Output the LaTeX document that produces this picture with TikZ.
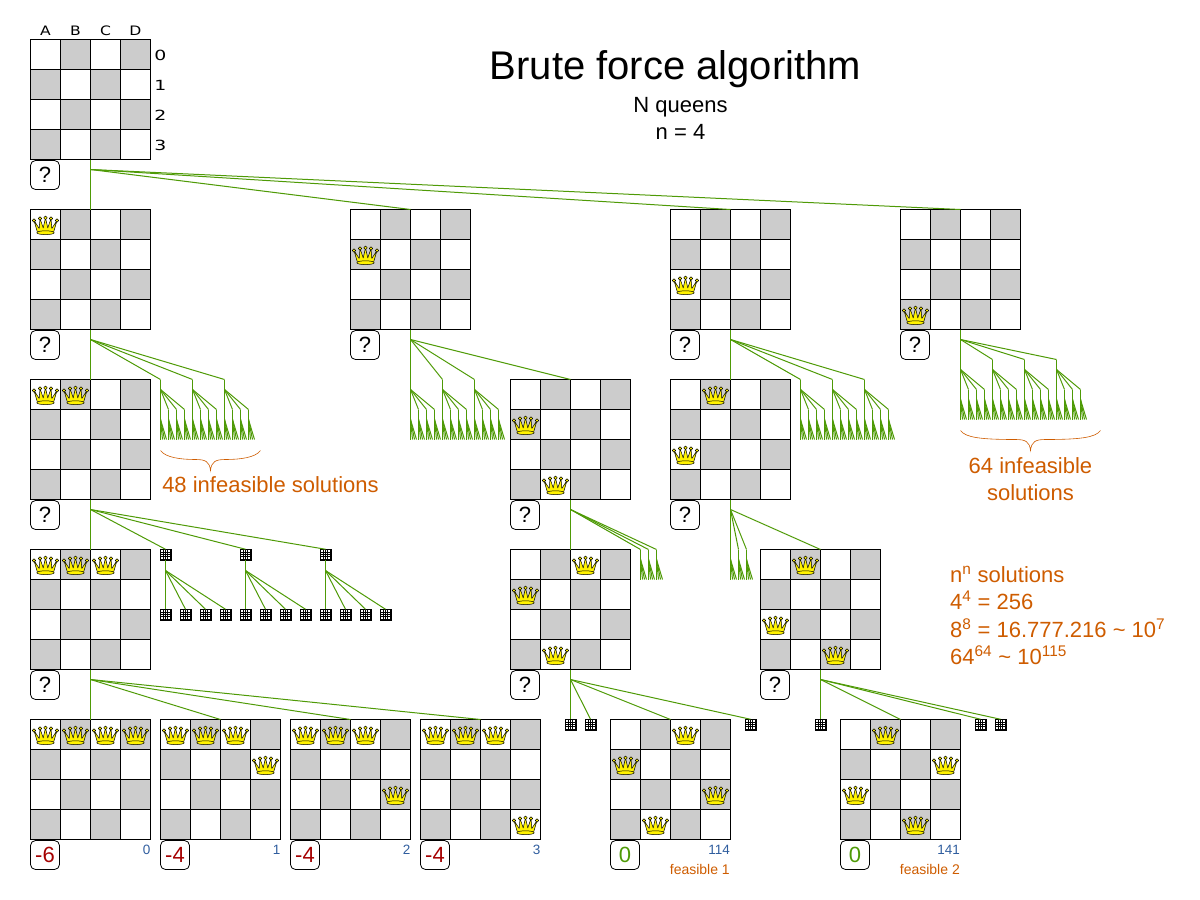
\documentclass[tikz,border=0pt]{standalone}
\usepackage{fontspec}
\setmainfont{Liberation Sans}
\newfontfamily\labelfont{DejaVu Sans}

\definecolor{cellgray}{HTML}{CCCCCC}
\definecolor{edgegreen}{HTML}{4E9A06}
\definecolor{notered}{HTML}{A40000}
\definecolor{noteorange}{HTML}{CE5C00}
\definecolor{noteblue}{HTML}{2F5D9E}
\definecolor{crownyellow}{HTML}{FFF200}

\tikzset{
  boardframe/.style={draw=black, line width=1.1pt, minimum size=120pt,
    inner sep=0pt, outer sep=0pt, anchor=north west},
  gridline/.style={draw=black, line width=1.1pt},
  branch/.style={draw=edgegreen, line width=1pt},
  crown/.style={draw=black, fill=crownyellow, line width=0.5pt, line join=round},
  miniboard/.style={draw=black, fill=black, line width=0.5pt, minimum size=10.5pt,
    inner sep=0pt, outer sep=0pt},
  scorebox/.style={draw=black, line width=0.8pt, rounded corners=5pt, minimum size=29pt,
    inner sep=0pt, outer sep=0pt, anchor=north west, font=\fontsize{22}{22}\selectfont},
  collabel/.style={font=\labelfont\fontsize{13}{13}\selectfont, xscale=1.2, transform shape, inner sep=0pt},
  rowlabel/.style={font=\labelfont\fontsize{14}{14}\selectfont, xscale=1.35, transform shape, inner sep=0pt},
  titletext/.style={anchor=base, inner sep=0pt, font=\fontsize{#1}{#1}\selectfont},
  note/.style={text=noteorange, inner sep=0pt, font=\fontsize{22}{22}\selectfont},
  indexnote/.style={text=noteblue, inner sep=0pt, anchor=east, font=\fontsize{13.5}{14}\selectfont},
  feasnote/.style={text=noteorange, inner sep=0pt, anchor=east, font=\fontsize{14}{14}\selectfont},
  bracecurve/.style={draw=noteorange, line width=0.6pt},
}

% checker board with its fork point below
\newcommand{\board}[3]{
  \begin{scope}[shift={(#2,#3)}]
    \foreach \cx/\cy in {30/0,90/0,0/30,60/30,30/60,90/60,0/90,60/90}
      \fill[cellgray] (\cx,\cy) rectangle ++(30,30);
    \foreach \k in {30,60,90} {
      \draw[gridline] (\k,0) -- (\k,120);
      \draw[gridline] (0,\k) -- (120,\k);
    }
  \end{scope}
  \node[boardframe] (#1) at (#2,#3) {};
  \coordinate (#1-f) at ([yshift=-10pt]#1.south);
}

% crowns, given as column/row
\newcommand{\queens}[2]{
  \foreach \qc/\qr in {#2} {
    \begin{scope}[shift={(#1.north west)}, shift={(\qc*30,\qr*30)}]
      \draw[crown] (7,23) -- (3.5,11) -- (8.7,19) -- (9.5,9) -- (12.7,18.5) -- (15,8.3)
        -- (17.3,18.5) -- (20.5,9) -- (21.3,19) -- (26.5,11) -- (23,23) -- cycle;
      \draw[crown] (15,23.2) ellipse (8.7 and 1.9);
      \foreach \bx/\by in {3.5/11,9.5/9,15/8.3,20.5/9,26.5/11}
        \draw[crown] (\bx,\by) circle (1.8);
    \end{scope}
  }
}

% rounded box under a board
\newcommand{\scorelabel}[3]{
  \node[scorebox, text=#2] (#1-s) at ([yshift=-1pt]#1.south west) {#3};
}

% tiny board
\newcommand{\tinyboard}[3]{
  \node[miniboard] (#1) at (#2,#3) {};
  \begin{scope}[shift={(#2,#3)}]
    \foreach \cx in {-4.1,-1.8,0.5,2.8}
      \foreach \cy in {-4.1,-1.8,0.5,2.8}
        \fill[white] (\cx,\cy) rectangle ++(1.25,1.25);
  \end{scope}
}

% tiny board with four tiny children
\newcommand{\tinytree}[2]{
  \tinyboard{#1}{#2}{554}
  \coordinate (#1-f) at (#2,570);
  \foreach \i in {0,...,3} {
    \tinyboard{#1-\i}{#2+20*\i}{614}
    \draw[branch] (#1-f) -- (#1-\i.north);
  }
  \draw[branch] (#1.south) -- (#1-f);
}

% four leaves under a point
\newcommand{\fanleaves}[1]{
  \coordinate (#1-f) at ([yshift=-10pt]#1);
  \draw[branch] (#1) -- (#1-f);
  \foreach \j in {0,...,3} {
    \coordinate (#1-\j) at ([xshift=2*\j pt, yshift=-30pt]#1);
    \draw[branch] (#1-f) -- (#1-\j);
  }
}

% four points under a point, each with four leaves
\newcommand{\fangroup}[3]{
  \coordinate (#1) at (#2,#3);
  \coordinate (#1-f) at (#2,#3+10);
  \draw[branch] (#1) -- (#1-f);
  \foreach \i in {0,...,3} {
    \coordinate (#1-\i) at ({#2+8*\i},#3+30);
    \draw[branch] (#1-f) -- (#1-\i);
    \fanleaves{#1-\i}
  }
}

% curly brace, 100pt or 140pt wide
\newcommand{\bracemark}[3]{
  \begin{scope}[shift={(#1,#2)}]
    \draw[bracecurve] (0,0) .. controls (5,7) and (20,9) .. (#3/2-15,9)
      .. controls (#3/2-5,9) and (#3/2-1,11) .. (#3/2,20)
      .. controls (#3/2+1,11) and (#3/2+5,9) .. (#3/2+15,9)
      .. controls (#3-20,9) and (#3-5,7) .. (#3,0);
  \end{scope}
}

\begin{document}
\begin{tikzpicture}[x=1pt, y=-1pt]
\useasboundingbox (-0.5,-0.5) rectangle (1199.5,899.5);

  % title
  \node[titletext=40] (title) at (675,79) {Brute force algorithm};
  \node[titletext=22] (subtitle) at (680,112) {N queens};
  \node[titletext=22] (size) at (680,139) {n = 4};

  % boards
  \board{bzero}{30}{39}
  \board{ba}{30}{209}
  \board{bb}{350}{209}
  \board{bc}{670}{209}
  \board{bd}{900}{209}
  \board{baa}{30}{379}
  \board{bbd}{510}{379}
  \board{bcb}{670}{379}
  \board{baaa}{30}{549}
  \board{bbdc}{510}{549}
  \board{bcbd}{760}{549}
  \board{rzero}{30}{719}
  \board{rone}{160}{719}
  \board{rtwo}{290}{719}
  \board{rthree}{420}{719}
  \board{rfeasa}{610}{719}
  \board{rfeasb}{840}{719}

  \queens{ba}{0/0}
  \queens{bb}{0/1}
  \queens{bc}{0/2}
  \queens{bd}{0/3}
  \queens{baa}{0/0,1/0}
  \queens{bbd}{0/1,1/3}
  \queens{bcb}{1/0,0/2}
  \queens{baaa}{0/0,1/0,2/0}
  \queens{bbdc}{0/1,2/0,1/3}
  \queens{bcbd}{1/0,0/2,2/3}
  \queens{rzero}{0/0,1/0,2/0,3/0}
  \queens{rone}{0/0,1/0,2/0,3/1}
  \queens{rtwo}{0/0,1/0,2/0,3/2}
  \queens{rthree}{0/0,1/0,2/0,3/3}
  \queens{rfeasa}{2/0,0/1,3/2,1/3}
  \queens{rfeasb}{1/0,3/1,0/2,2/3}

  % column and row names
  \foreach \c/\x in {A/45,B/75,C/105,D/135} {
    \node[collabel] (col\c) at (\x,30) {\c};
  }
  \foreach \r/\y in {0/55,1/85,2/115,3/145} {
    \node[rowlabel] (row\r) at (160,\y) {\r};
  }

  % score boxes
  \foreach \b in {bzero,ba,bb,bc,bd,baa,bbd,bcb,baaa,bbdc,bcbd} {
    \scorelabel{\b}{black}{?}
  }
  \scorelabel{rzero}{notered}{-6}
  \scorelabel{rone}{notered}{-4}
  \scorelabel{rtwo}{notered}{-4}
  \scorelabel{rthree}{notered}{-4}
  \scorelabel{rfeasa}{edgegreen}{0}
  \scorelabel{rfeasb}{edgegreen}{0}

  % board to board
  \draw[branch] (bzero.south) -- (ba.north);
  \foreach \b in {bb,bc,bd} {
    \draw[branch] (bzero-f) -- (\b.north);
  }
  \draw[branch] (ba.south) -- (baa.north);
  \draw[branch] (baa.south) -- (baaa.north);
  \draw[branch] (baaa.south) -- (rzero.north);
  \foreach \b in {rone,rtwo,rthree} {
    \draw[branch] (baaa-f) -- (\b.north);
  }
  \draw[branch] (bb-f) -- (bbd.north);
  \draw[branch] (bbd.south) -- (bbdc.north);
  \draw[branch] (bc.south) -- (bcb.north);
  \draw[branch] (bcb.south) -- (bcb-f);
  \draw[branch] (bcb-f) -- (bcbd.north);
  \draw[branch] (bbdc.south) -- (bbdc-f);
  \draw[branch] (bcbd.south) -- (bcbd-f);
  \draw[branch] (bbdc-f) -- (rfeasa.north);
  \draw[branch] (bcbd-f) -- (rfeasb.north);

  % infeasible fans
  \draw[branch] (bb.south) -- (bb-f);
  \draw[branch] (bd.south) -- (bd-f);
  \foreach \n/\x in {faa/160,fab/192,fac/224} {
    \fangroup{\n}{\x}{379}
    \draw[branch] (ba-f) -- (\n);
  }
  \foreach \n/\x in {fba/410,fbb/442,fbc/474} {
    \fangroup{\n}{\x}{379}
    \draw[branch] (bb-f) -- (\n);
  }
  \foreach \n/\x in {fca/800,fcb/832,fcc/864} {
    \fangroup{\n}{\x}{379}
    \draw[branch] (bc-f) -- (\n);
  }
  \foreach \n/\x in {fda/960,fdb/992,fdc/1024,fdd/1056} {
    \fangroup{\n}{\x}{359}
    \draw[branch] (bd-f) -- (\n);
  }
  \foreach \n/\x in {fea/640,feb/648,fec/656} {
    \coordinate (\n) at (\x,549);
    \fanleaves{\n}
    \draw[branch] (bbd-f) -- (\n);
  }
  \foreach \n/\x in {ffa/730,ffb/738,ffc/746} {
    \coordinate (\n) at (\x,549);
    \fanleaves{\n}
    \draw[branch] (bcb-f) -- (\n);
  }

  % tiny boards
  \foreach \n/\x in {ta/165,tb/245,tc/325} {
    \tinytree{\n}{\x}
    \draw[branch] (baa-f) -- (\n.north);
  }
  \foreach \n/\x in {tda/570,tdb/590,tdc/750} {
    \tinyboard{\n}{\x}{724}
    \draw[branch] (bbdc-f) -- (\n.north);
  }
  \foreach \n/\x in {tea/820,teb/980,tec/1000} {
    \tinyboard{\n}{\x}{724}
    \draw[branch] (bcbd-f) -- (\n.north);
  }

  % braces and notes
  \bracemark{160}{450}{100}
  \bracemark{960}{430}{140}
  \node[note] (noteleft) at (270,484) {48 infeasible solutions};
  \node[note] (noterighta) at (1030,465) {64 infeasible};
  \node[note] (noterightb) at (1030,492) {solutions};
  \node[note, anchor=base west] (countn) at (949.5,582) {n\textsuperscript{n} solutions};
  \node[note, anchor=base west] (countf) at (949.5,609) {4\textsuperscript{4} = 256};
  \node[note, anchor=base west] (counte) at (949.5,636.5) {8\textsuperscript{8} = 16.777.216 \textasciitilde{} 10\textsuperscript{7}};
  \node[note, anchor=base west] (counts) at (949.5,664) {64\textsuperscript{64} \textasciitilde{} 10\textsuperscript{115}};

  % indices
  \node[indexnote] (idxa) at (150,849) {0};
  \node[indexnote] (idxb) at (280,849) {1};
  \node[indexnote] (idxc) at (410,849) {2};
  \node[indexnote] (idxd) at (540,849) {3};
  \node[indexnote] (idxe) at (729.5,849) {114};
  \node[indexnote] (idxf) at (959.5,849) {141};
  \node[feasnote] (feasa) at (729.5,869) {feasible 1};
  \node[feasnote] (feasb) at (959.5,869) {feasible 2};

\end{tikzpicture}
\end{document}
